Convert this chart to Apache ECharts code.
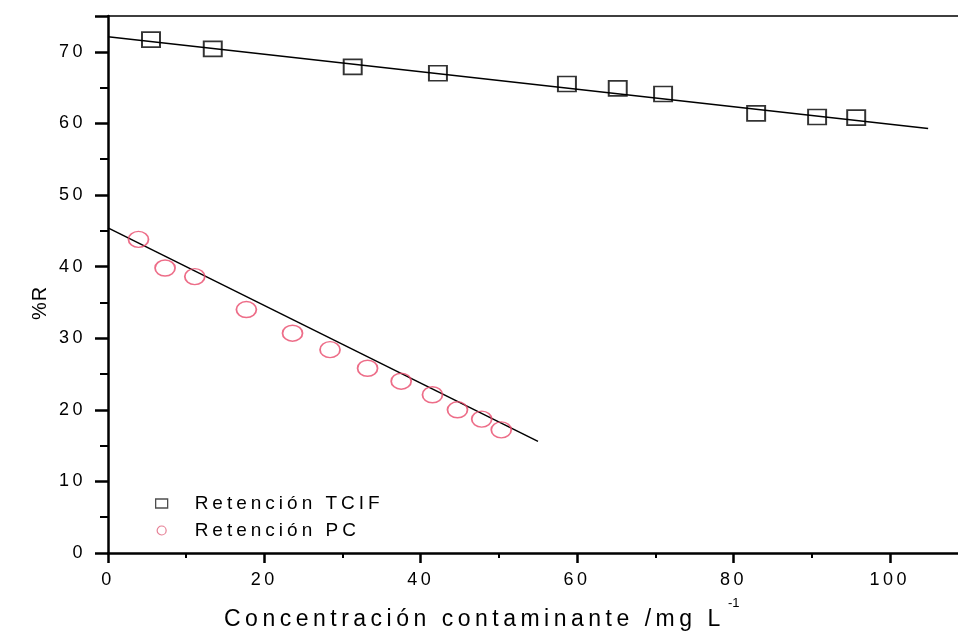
<!DOCTYPE html>
<html>
<head>
<meta charset="utf-8">
<script src="https://cdn.jsdelivr.net/npm/echarts@6/dist/echarts.min.js"></script>
<style>
html,body{margin:0;padding:0;background:#fff;}
#chart{width:958px;height:634px;}
</style>
</head>
<body>
<div id="chart"></div>
<script>
// Data
const tcifX = [5.5, 13.4, 31.3, 42.2, 58.7, 65.2, 71.0, 82.9, 90.7, 95.7];
const tcifY = [71.7, 70.4, 67.9, 67.0, 65.5, 64.9, 64.1, 61.4, 60.9, 60.8];
const pcX = [3.9, 7.3, 11.1, 17.7, 23.6, 28.4, 33.2, 37.5, 41.5, 44.7, 47.8, 50.3];
const pcY = [43.8, 39.8, 38.6, 34.0, 30.7, 28.4, 25.8, 24.0, 22.1, 20.0, 18.7, 17.2];
const tcifFitX = [0, 104.9];
const tcifFitY = [72.1, 59.3];
const pcFitX = [0, 55.0];
const pcFitY = [45.4, 15.6];
const xTickLabels = [0, 20, 40, 60, 80, 100];
const yTickLabels = [0, 10, 20, 30, 40, 50, 60, 70];
const seriesNames = ['Retención TCIF', 'Retención PC'];
const xTitle = 'Concentración contaminante /mg L';
const xTitleSup = '-1';
const yTitle = '%R';

const zip = (a, b) => a.map((v, i) => [v, b[i]]);
const FONT = 'Liberation Sans, Arial, sans-serif';
const ellipse = 'path://M0 5A5 5 0 1 1 10 5A5 5 0 1 1 0 5Z';

// the scanned figure uses widely spaced lettering; emulate it at draw time
(function () {
  const proto = CanvasRenderingContext2D.prototype;
  if (!('letterSpacing' in proto)) return;
  const orig = proto.fillText;
  proto.fillText = function (t, x, y, m) {
    const f = this.font || '';
    let sp = '0px';
    if (/\b23px/.test(f)) sp = '4.5px';
    else if (/\b19px/.test(f)) sp = '4px';
    else if (/\b18px/.test(f)) sp = '3.5px';
    else if (/\b20px/.test(f)) sp = '1px';
    this.letterSpacing = sp;
    const r = m === undefined ? orig.call(this, t, x, y) : orig.call(this, t, x, y, m);
    this.letterSpacing = '0px';
    return r;
  };
})();

const dom = document.getElementById('chart');
const chart = echarts.init(dom, null, {renderer: 'canvas'});

chart.setOption({
  backgroundColor: '#ffffff',
  animation: false,
  grid: {left: 108, right: -10, top: 16, bottom: 81, containLabel: false, outerBoundsMode: 'none'},
  legend: {
    orient: 'vertical',
    left: 150,
    top: 489,
    itemWidth: 12,
    itemHeight: 9,
    itemGap: 8,
    textStyle: {fontFamily: FONT, fontSize: 19, color: '#000', padding: [0, 0, 0, 22]},
    data: [
      {name: seriesNames[0], icon: 'rect', itemStyle: {color: 'rgba(0,0,0,0)', borderColor: '#222', borderWidth: 1.3}},
      {name: seriesNames[1], icon: ellipse, itemStyle: {color: 'rgba(0,0,0,0)', borderColor: '#e0607a', borderWidth: 1.2}}
    ]
  },
  xAxis: [{
    type: 'value',
    min: 0,
    max: 110,
    interval: 20,
    axisLine: {show: true, onZero: false, lineStyle: {color: '#000', width: 2.5}},
    axisTick: {show: true, inside: false, length: 10, lineStyle: {color: '#000', width: 2.5}},
    minorTick: {show: true, splitNumber: 2, length: 5, lineStyle: {color: '#000', width: 2}},
    splitLine: {show: false},
    axisLabel: {
      margin: 18,
      fontFamily: FONT, fontSize: 18, color: '#000',
      formatter: v => xTickLabels.indexOf(Math.round(v)) >= 0 && Math.abs(v - Math.round(v)) < 1e-6 ? String(Math.round(v)) : ''
    }
  }, {
    type: 'value',
    position: 'top',
    min: 0,
    max: 110,
    axisLine: {show: true, onZero: false, lineStyle: {color: '#000', width: 1.5}},
    axisTick: {show: false},
    axisLabel: {show: false},
    splitLine: {show: false}
  }],
  yAxis: {
    type: 'value',
    min: 0,
    max: 75,
    interval: 10,
    axisLine: {show: true, onZero: false, lineStyle: {color: '#000', width: 2.5}},
    axisTick: {show: true, inside: false, length: 13, lineStyle: {color: '#000', width: 2.5}},
    minorTick: {show: true, splitNumber: 2, length: 8, lineStyle: {color: '#000', width: 2}},
    splitLine: {show: false},
    axisLabel: {
      margin: 22,
      fontFamily: FONT, fontSize: 18, color: '#000',
      formatter: v => yTickLabels.indexOf(Math.round(v)) >= 0 && Math.abs(v - Math.round(v)) < 1e-6 ? String(Math.round(v)) : ''
    }
  },
  graphic: [
    {
      type: 'text',
      x: 224,
      y: 620,
      style: {text: xTitle, fontFamily: FONT, fontSize: 23, fill: '#000', align: 'left', verticalAlign: 'middle'}
    },
    {
      type: 'text',
      x: 728,
      y: 603,
      style: {text: xTitleSup, fontFamily: FONT, fontSize: 13, fill: '#000', align: 'left', verticalAlign: 'middle'}
    },
    {
      type: 'text',
      x: 40,
      y: 303,
      rotation: Math.PI / 2,
      style: {text: yTitle, fontFamily: FONT, fontSize: 20, fill: '#000', align: 'center', verticalAlign: 'middle'}
    }
  ],
  series: [
    {
      name: seriesNames[0],
      type: 'scatter',
      data: zip(tcifX, tcifY),
      symbol: 'rect',
      symbolSize: [18, 15],
      itemStyle: {color: 'rgba(0,0,0,0)', borderColor: '#000', borderWidth: 1.8},
      z: 3
    },
    {
      name: seriesNames[1],
      type: 'scatter',
      data: zip(pcX, pcY),
      symbol: ellipse,
      symbolSize: [20, 16],
      itemStyle: {color: 'rgba(0,0,0,0)', borderColor: '#e8496a', borderWidth: 1.6},
      z: 3
    },
    {
      name: 'fitTCIF',
      type: 'line',
      data: zip(tcifFitX, tcifFitY),
      symbol: 'none',
      lineStyle: {color: '#000', width: 1.5},
      z: 2
    },
    {
      name: 'fitPC',
      type: 'line',
      data: zip(pcFitX, pcFitY),
      symbol: 'none',
      lineStyle: {color: '#000', width: 1.5},
      z: 2
    }
  ]
});
</script>
</body>
</html>
